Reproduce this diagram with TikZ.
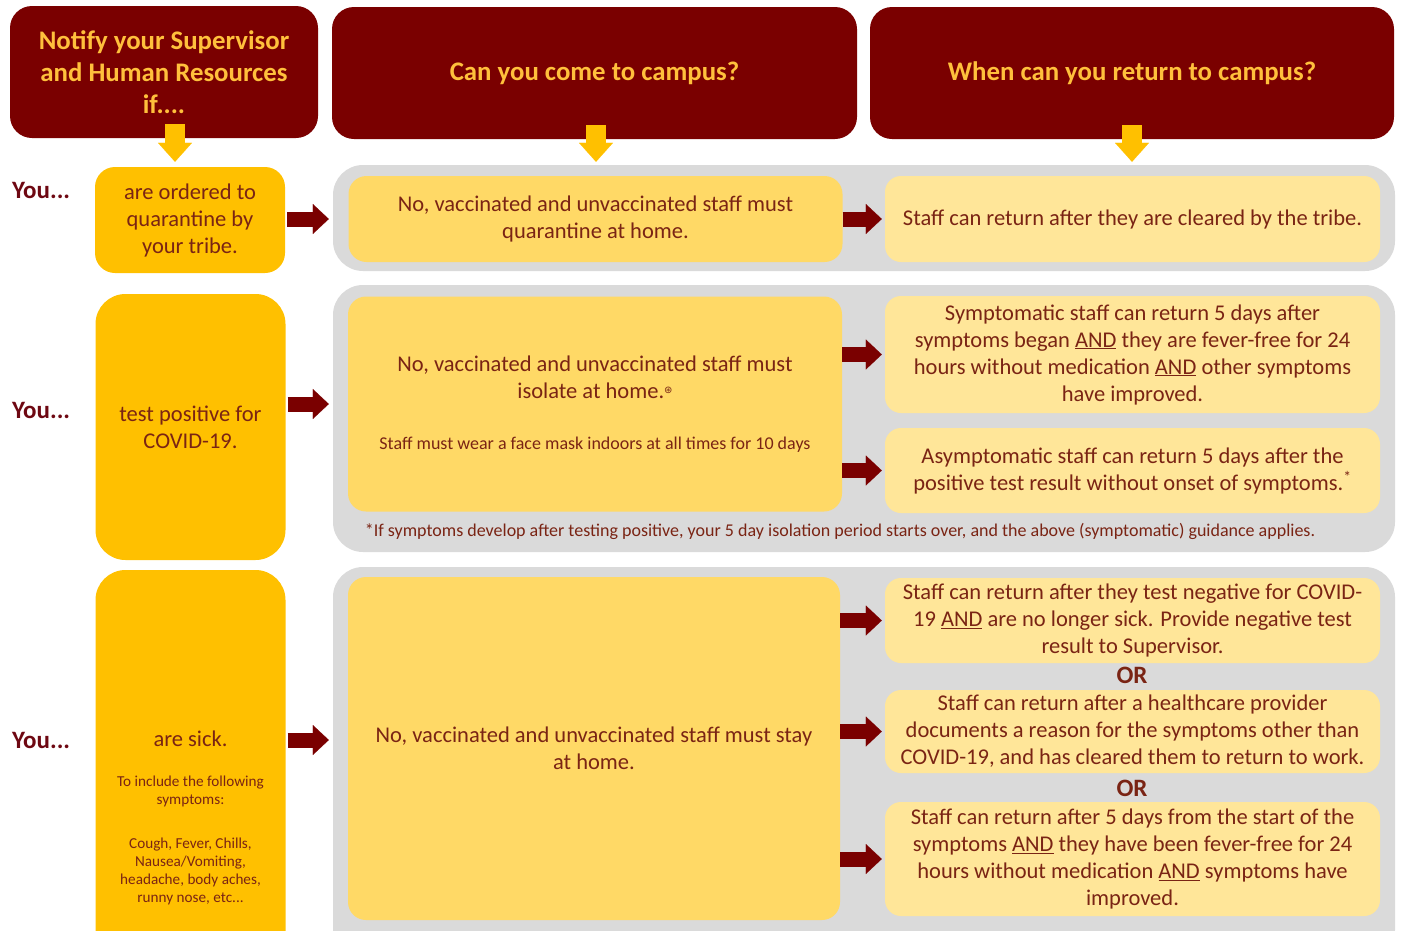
\documentclass[tikz,border=0pt]{standalone}
\usepackage{fontspec}
\setmainfont{Carlito}
\newfontfamily\symfont{DejaVu Sans}
\usetikzlibrary{arrows.meta}
\definecolor{maroon}{RGB}{122,0,0}
\definecolor{gold}{RGB}{255,192,0}
\definecolor{headtext}{RGB}{255,192,60}
\definecolor{midfill}{RGB}{255,217,102}
\definecolor{rightfill}{RGB}{255,230,153}
\definecolor{greyfill}{RGB}{218,218,218}
\definecolor{textbrown}{RGB}{122,36,20}
\definecolor{youred}{RGB}{110,8,18}

\begin{document}
\begin{tikzpicture}[x=1pt,y=-1pt]
  \tikzset{header/.style = {fill=maroon, rounded corners=22pt, minimum height=132pt, inner sep=0pt, text=headtext, align=center, font=\fontsize{26.8}{32}\selectfont\bfseries}}
  \tikzset{casebox/.style = {fill=gold, rounded corners=20pt, minimum width=190pt, inner sep=0pt, text=textbrown, align=center, font=\fontsize{22.5}{27}\selectfont}}
  \tikzset{greyrow/.style = {fill=greyfill, rounded corners=30pt, minimum width=1062pt, inner sep=0pt}}
  \tikzset{midbox/.style = {fill=midfill, rounded corners=18pt, minimum width=494pt, inner sep=0pt, text=textbrown, align=center, font=\fontsize{22.5}{27}\selectfont}}
  \tikzset{rightbox/.style = {fill=rightfill, rounded corners=16pt, minimum width=495pt, inner sep=0pt, text=textbrown, align=center, font=\fontsize{22.5}{27}\selectfont}}
  \tikzset{you/.style = {anchor=west, inner sep=0pt, text=youred, font=\fontsize{25}{28}\selectfont\bfseries}}
  \tikzset{orlabel/.style = {inner sep=0pt, text=textbrown, font=\fontsize{25}{28}\selectfont\bfseries}}
  \tikzset{goldarrow/.style = {draw=gold, line width=20pt, -{Triangle[length=19pt,width=34pt,line width=0.1pt]}}}
  \tikzset{redarrow/.style = {draw=maroon, line width=15pt, -{Triangle[length=16pt,width=30pt,line width=0.1pt]}}}

  \useasboundingbox (0,0) rectangle (1405,930);

  \node[header, minimum width=308pt] (h1) at (164,72) {Notify your Supervisor\\and Human Resources\\if....};
  \node[header, minimum width=525pt] (h2) at (594.5,73) {Can you come to campus?};
  \node[header, minimum width=524pt] (h3) at (1132,73) {When can you return to campus?};

  \node[greyrow, minimum height=106pt] (g1) at (864,218) {};
  \node[greyrow, minimum height=267pt] (g2) at (864,418.5) {};
  \node[greyrow, minimum height=393pt] (g3) at (864,763.5) {};

  \node[you] (you1) at (12,190) {You...};
  \node[you] (you2) at (12,410) {You...};
  \node[you] (you3) at (12,740) {You...};

  \node[casebox, minimum height=106pt] (case1) at (190,220) {are ordered to\\quarantine by\\your tribe.};
  \node[casebox, minimum height=266pt, rounded corners=30pt] (case2) at (190.5,427) {test positive for\\COVID-19.};
  \node[casebox, minimum height=496pt, rounded corners=30pt, text width=185pt, align=flush center] (case3) at (190.5,818) {are sick.\par\vspace{22pt}
    \fontsize{15.2}{18}\selectfont To include the following\\symptoms:\\[26pt]
    Cough, Fever, Chills,\\Nausea/Vomiting,\\headache, body aches,\\runny nose, etc...\par};

  \node[midbox, minimum height=86pt] (mid1) at (595.5,219) {No, vaccinated and unvaccinated staff must\\quarantine at home.};
  \node[midbox, minimum height=215pt, text width=480pt, align=flush center] (mid2) at (595,404) {No, vaccinated and unvaccinated staff must\\isolate at home.\raisebox{5pt}{\symfont\fontsize{10}{10}\selectfont ⊛}\par\vspace{30pt}
    \fontsize{18}{21}\selectfont Staff must wear a face mask indoors at all times for 10 days\par};
  \node[midbox, minimum height=343pt, minimum width=492pt] (mid3) at (594,748.5) {No, vaccinated and unvaccinated staff must stay\\at home.};

  \node[rightbox, minimum height=86pt] (r1) at (1132.5,219) {Staff can return after they are cleared by the tribe.};
  \node[rightbox, minimum height=117pt] (r21) at (1132.5,354.5) {Symptomatic staff can return 5 days after\\symptoms began \underline{AND} they are fever-free for 24\\hours without medication \underline{AND} other symptoms\\have improved.};
  \node[rightbox, minimum height=85pt] (r22) at (1132.5,470.5) {Asymptomatic staff can return 5 days after the\\positive test result without onset of symptoms.\textsuperscript{*}};
  \node[inner sep=0pt, text=textbrown, font=\fontsize{18}{20}\selectfont] (note) at (840,531) {*If symptoms develop after testing positive, your 5 day isolation period starts over, and the above (symptomatic) guidance applies.};

  \node[rightbox, minimum height=85pt] (r31) at (1132.5,620.5) {Staff can return after they test negative for COVID-\\19 \underline{AND} are no longer sick. Provide negative test\\result to Supervisor.};
  \node[orlabel] (or1) at (1132,675) {OR};
  \node[rightbox, minimum height=83pt] (r32) at (1132.5,731.5) {Staff can return after a healthcare provider\\documents a reason for the symptoms other than\\COVID-19, and has cleared them to return to work.};
  \node[orlabel] (or2) at (1132,788) {OR};
  \node[rightbox, minimum height=114pt] (r33) at (1132.5,859) {Staff can return after 5 days from the start of the\\symptoms \underline{AND} they have been fever-free for 24\\hours without medication \underline{AND} symptoms have\\improved.};

  \coordinate (h1foot) at ([xshift=11pt]h1.south);
  \coordinate (h2foot) at ([xshift=1.5pt]h2.south);
  \foreach \foot in {h1foot, h2foot, h3.south}
    \draw[goldarrow, shorten <=-14pt, shorten >=3pt] (\foot) -- (\foot |- g1.north);

  \foreach \from/\level/\row in {case1/mid1/g1, case2/mid2/g2, case3/you3/g3}
    \draw[redarrow, shorten <=2pt, shorten >=4pt] (\from.east |- \level.west) -- (\row.west |- \level.west);

  \foreach \from/\to in {mid1/r1, mid2/r21, mid2/r22, mid3/r31, mid3/r32, mid3/r33}
    \draw[redarrow, shorten >=3pt] (\from.east |- \to.west) -- (\to.west);
\end{tikzpicture}
\end{document}
